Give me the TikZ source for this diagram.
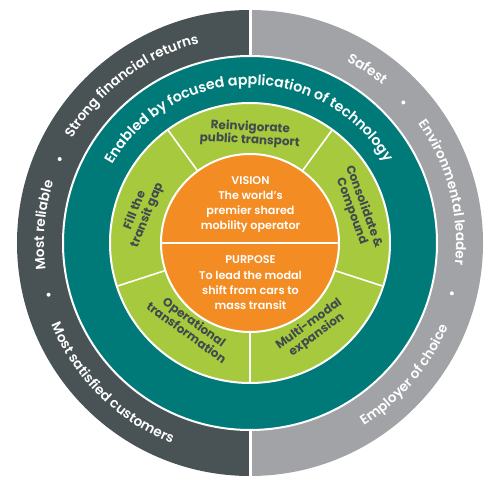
\documentclass[tikz,border=0pt]{standalone}
\usepackage{fontspec}
\setmainfont{Poppins}
\newfontfamily\popmed{Poppins Medium}
\newfontfamily\popsemi{Poppins SemiBold}
\usetikzlibrary{decorations.text}
\definecolor{ringdark}{HTML}{495355}
\definecolor{ringlight}{HTML}{A1A3A6}
\definecolor{tealc}{HTML}{007A79}
\definecolor{limec}{HTML}{A7C93D}
\definecolor{orangec}{HTML}{F48C24}
\definecolor{labelc}{HTML}{414A4E}
\begin{document}
\begin{tikzpicture}[x=1pt,y=1pt,
  greenlbl/.style={text=labelc, font=\bfseries\fontsize{12}{13}\selectfont, align=center, inner sep=0pt},
  orangelbl/.style={text=white, font=\popsemi\fontsize{11.2}{15.3}\selectfont, align=center, inner sep=0pt},
  outertext/.style={decorate, decoration={text along path, text align=center, text color=white, text={|\popsemi\fontsize{13.6}{16}\selectfont|#1}}},
  techtext/.style={decorate, decoration={text along path, text align=center, text color=white, text={|\popsemi\fontsize{14.2}{16}\selectfont|#1}}},
  sepline/.style={draw=white, line width=1.6pt},
  dotmark/.style={circle, fill=white, minimum size=4pt, inner sep=0pt},
]
\useasboundingbox (-250,-246) rectangle (250,243);
% outer ring halves
\fill[ringlight] (0,0) -- (90:233) arc[start angle=90,end angle=-90,radius=233] -- cycle;
\fill[ringdark] (0,0) -- (90:233) arc[start angle=90,end angle=270,radius=233] -- cycle;
\draw[white, line width=3pt] (0,234) -- (0,-234);
% teal ring
\filldraw[fill=tealc, draw=white, line width=2pt] (0,0) circle[radius=187];
% green ring
\filldraw[fill=limec, draw=white, line width=2pt] (0,0) circle[radius=140];
\foreach \a in {54,126,198,270,342} \draw[sepline] (\a:88) -- (\a:140);
% orange core
\filldraw[fill=orangec, draw=white, line width=2pt] (0,0) circle[radius=89];
\draw[sepline] (-89,0) -- (89,0);
% orange texts
\node[orangelbl] (vision) at (0.5,38.5) {VISION\\The world’s\\premier shared\\mobility operator};
\node[orangelbl] (purpose) at (0.5,-40) {PURPOSE\\To lead the modal\\shift from cars to\\mass transit};
% green texts
\node[greenlbl, rotate=-3] (reinv) at (90:109) {Reinvigorate\\public transport};
\node[greenlbl, rotate=-70] (consol) at (17.5:113) {Consolidate \&\\Compound};
\node[greenlbl, rotate=36] (multi) at (-54:107) {Multi-modal\\expansion};
\node[greenlbl, rotate=-36] (oper) at (234.8:103) {Operational\\transformation};
\node[greenlbl, rotate=68] (fill) at (164.5:113) {Fill the\\transit gap};
% teal text
\path[techtext={Enabled by focused application of technology}] (175.5:158) arc[start angle=175.5,end angle=5.5,radius=158];
% outer texts
\path[outertext={Strong financial returns}] (167:206) arc[start angle=167,end angle=87,radius=206];
\path[outertext={Most reliable}] (195:206) arc[start angle=195,end angle=155,radius=206];
\path[outertext={Most satisfied customers}] (185:215) arc[start angle=185,end angle=266,radius=215];
\path[outertext={Safest}] (76:206) arc[start angle=76,end angle=36,radius=206];
\path[outertext={Environmental leader}] (44.7:206) arc[start angle=44.7,end angle=-15.3,radius=206];
\path[outertext={Employer of choice}] (-70.5:215) arc[start angle=-70.5,end angle=-10.5,radius=215];
% separator dots
\node[dotmark] (d1) at (156.2:208) {};
\node[dotmark] (d2) at (194.4:208) {};
\node[dotmark] (d3) at (42.5:208) {};
\node[dotmark] (d4) at (-14:208) {};
\end{tikzpicture}
\end{document}
